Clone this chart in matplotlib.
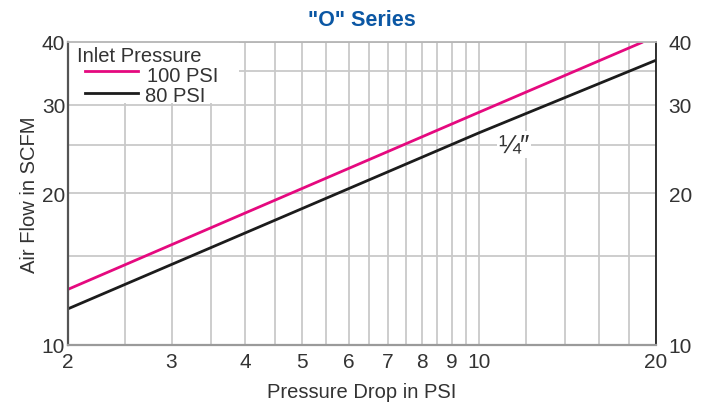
import matplotlib
matplotlib.use("Agg")
import matplotlib.pyplot as plt
from matplotlib.patches import Rectangle
from matplotlib.ticker import NullFormatter

plt.rcParams['font.family'] = ['Liberation Sans', 'DejaVu Sans']

# data (log-log)
drop_100 = [2, 10, 19]
flow_100 = [12.9, 29.0, 40.0]
drop_80 = [2, 10, 20]
flow_80 = [11.8, 26.4, 36.8]

x_ticks = [2, 3, 4, 5, 6, 7, 8, 9, 10, 20]
x_grid = [2.5, 3.5, 4.5, 5.5, 6.5, 7.5, 8.5, 9.5, 12, 14, 16, 18]
y_ticks = [10, 20, 30, 40]
y_grid = [15, 25, 35]

pink = '#e5097f'
black = '#1c1c1c'
grid_c = '#c9c9c9'
txt = '#333333'
fs = 14.5

fig = plt.figure(figsize=(7.04, 4.06), dpi=100)
ax = fig.add_axes([68/704, 60/406, 588/704, 303/406])

ax.set_xscale('log')
ax.set_yscale('log')
ax.set_xlim(2, 20)
ax.set_ylim(10, 40)

ax.plot(drop_100, flow_100, color=pink, lw=2.0, zorder=2, solid_capstyle='butt')
ax.plot(drop_80, flow_80, color=black, lw=2.0, zorder=2, solid_capstyle='butt')

ax.set_xticks(x_ticks)
ax.set_xticklabels([str(t) for t in x_ticks])
ax.set_xticks(x_grid, minor=True)
ax.xaxis.set_minor_formatter(NullFormatter())
ax.set_yticks(y_ticks)
ax.set_yticklabels([str(t) for t in y_ticks])
ax.set_yticks(y_grid, minor=True)
ax.yaxis.set_minor_formatter(NullFormatter())

ax.set_axisbelow(True)
ax.grid(True, which='both', color=grid_c, lw=1.3)
ax.tick_params(which='both', length=0)
ax.tick_params(axis='x', labelsize=15, pad=5, colors=txt)
ax.tick_params(axis='y', labelsize=15, pad=2, colors=txt)

ax.spines['left'].set_color('#555555')
ax.spines['left'].set_linewidth(1.6)
ax.spines['bottom'].set_color('#9a9a9a')
ax.spines['bottom'].set_linewidth(1.6)
ax.spines['top'].set_color('#b5b5b5')
ax.spines['top'].set_linewidth(1.3)
ax.spines['right'].set_color('#222222')
ax.spines['right'].set_linewidth(1.3)

# right-hand labels
ax2 = ax.twinx()
ax2.set_yscale('log')
ax2.set_ylim(10, 40)
ax2.set_yticks(y_ticks)
ax2.set_yticklabels([str(t) for t in y_ticks])
ax2.yaxis.set_minor_formatter(NullFormatter())
ax2.tick_params(which='both', length=0, labelsize=15, pad=9, colors=txt)
for s in ax2.spines.values():
    s.set_visible(False)

# legend block with white background hiding grid
ax.add_patch(Rectangle((0, 0.8), 0.29, 0.2, transform=ax.transAxes,
                       facecolor='white', edgecolor='none', zorder=1))
ax.text(0.0153, 0.937, 'Inlet Pressure', transform=ax.transAxes, fontsize=fs,
        color=txt, va='baseline', ha='left', zorder=3)
ax.plot([0.029, 0.119], [0.904, 0.904], transform=ax.transAxes, color=pink, lw=2.0, zorder=3)
ax.text(0.134, 0.871, '100 PSI', transform=ax.transAxes, fontsize=fs,
        color=txt, va='baseline', ha='left', zorder=3)
ax.plot([0.029, 0.119], [0.832, 0.832], transform=ax.transAxes, color=black, lw=2.0, zorder=3)
ax.text(0.131, 0.805, '80 PSI', transform=ax.transAxes, fontsize=fs,
        color=txt, va='baseline', ha='left', zorder=3)

# size label
ax.text(11.45, 25, '¼″', fontsize=19, color=txt, ha='center', va='center',
        bbox=dict(facecolor='white', edgecolor='none', pad=1), zorder=3)

ax.set_title('"O" Series', fontsize=15.5, fontweight='bold', color='#0b57a4', pad=12)
ax.set_xlabel('Pressure Drop in PSI', fontsize=fs, color=txt, labelpad=8)
ax.set_ylabel('Air Flow in SCFM', fontsize=fs, color=txt, labelpad=2)

fig.savefig('out.png', dpi=100)
